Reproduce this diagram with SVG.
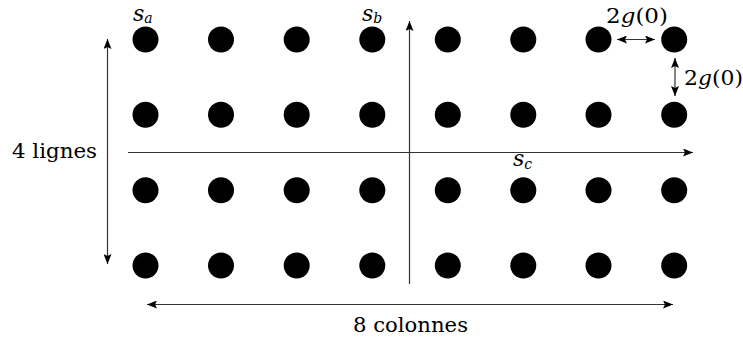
<svg xmlns="http://www.w3.org/2000/svg" width="743" height="338" viewBox="0 0 743 338">
<style>
.dot{fill:#000}
.ln{stroke:#333;stroke-width:1.2;fill:none}
.t{font-family:'DejaVu Serif',serif;font-size:21px;fill:#000}
.m{font-size:22px}
.i{font-style:italic}
.sub{font-style:italic;font-size:14px}
</style>
<defs>
<marker id="ah" viewBox="0 0 10 8" refX="10" refY="4" markerWidth="10" markerHeight="8" markerUnits="userSpaceOnUse" orient="auto-start-reverse">
<path d="M0,0 L10,4 L0,8 L2,4 Z" fill="#000"/>
</marker>
</defs>
<g id="dots">
<g id="row1"><circle class="dot" cx="145.5" cy="39.5" r="13"/><circle class="dot" cx="221" cy="39.5" r="13"/><circle class="dot" cx="296.7" cy="39.5" r="13"/><circle class="dot" cx="372.3" cy="39.5" r="13"/><circle class="dot" cx="447.8" cy="39.5" r="13"/><circle class="dot" cx="523.3" cy="39.5" r="13"/><circle class="dot" cx="598.5" cy="39.5" r="13"/><circle class="dot" cx="674.2" cy="39.5" r="13"/></g>
<g id="row2"><circle class="dot" cx="145.5" cy="114.8" r="13"/><circle class="dot" cx="221" cy="114.8" r="13"/><circle class="dot" cx="296.7" cy="114.8" r="13"/><circle class="dot" cx="372.3" cy="114.8" r="13"/><circle class="dot" cx="447.8" cy="114.8" r="13"/><circle class="dot" cx="523.3" cy="114.8" r="13"/><circle class="dot" cx="598.5" cy="114.8" r="13"/><circle class="dot" cx="674.2" cy="114.8" r="13"/></g>
<g id="row3"><circle class="dot" cx="145.5" cy="190.2" r="13"/><circle class="dot" cx="221" cy="190.2" r="13"/><circle class="dot" cx="296.7" cy="190.2" r="13"/><circle class="dot" cx="372.3" cy="190.2" r="13"/><circle class="dot" cx="447.8" cy="190.2" r="13"/><circle class="dot" cx="523.3" cy="190.2" r="13"/><circle class="dot" cx="598.5" cy="190.2" r="13"/><circle class="dot" cx="674.2" cy="190.2" r="13"/></g>
<g id="row4"><circle class="dot" cx="145.5" cy="265.5" r="13"/><circle class="dot" cx="221" cy="265.5" r="13"/><circle class="dot" cx="296.7" cy="265.5" r="13"/><circle class="dot" cx="372.3" cy="265.5" r="13"/><circle class="dot" cx="447.8" cy="265.5" r="13"/><circle class="dot" cx="523.3" cy="265.5" r="13"/><circle class="dot" cx="598.5" cy="265.5" r="13"/><circle class="dot" cx="674.2" cy="265.5" r="13"/></g>
</g>
<g id="connectors">
<line class="ln" x1="409.5" y1="284" x2="409.5" y2="21" marker-end="url(#ah)"/>
<line class="ln" x1="128" y1="152.5" x2="693" y2="152.5" marker-end="url(#ah)"/>
<line class="ln" x1="107.5" y1="39" x2="107.5" y2="264" marker-start="url(#ah)" marker-end="url(#ah)"/>
<line class="ln" x1="147" y1="304.5" x2="673" y2="304.5" marker-start="url(#ah)" marker-end="url(#ah)"/>
<line class="ln" x1="617" y1="39.5" x2="655" y2="39.5" marker-start="url(#ah)" marker-end="url(#ah)"/>
<line class="ln" x1="675" y1="58" x2="675" y2="96" marker-start="url(#ah)" marker-end="url(#ah)"/>
</g>
<g id="labels">
<text class="t" x="12" y="158" textLength="85" lengthAdjust="spacingAndGlyphs">4 lignes</text>
<text class="t" x="353" y="332" textLength="115" lengthAdjust="spacingAndGlyphs">8 colonnes</text>
<text class="t m" x="133" y="21"><tspan class="i">s</tspan><tspan class="sub" dy="2">a</tspan></text>
<text class="t m" x="362" y="21"><tspan class="i">s</tspan><tspan class="sub" dy="2">b</tspan></text>
<text class="t m" x="513" y="166"><tspan class="i">s</tspan><tspan class="sub" dy="3">c</tspan></text>
<text class="t" x="606" y="23" textLength="62" lengthAdjust="spacingAndGlyphs">2<tspan class="i">g</tspan>(0)</text>
<text class="t" x="684" y="85" textLength="59" lengthAdjust="spacingAndGlyphs">2<tspan class="i">g</tspan>(0)</text>
</g>
</svg>
